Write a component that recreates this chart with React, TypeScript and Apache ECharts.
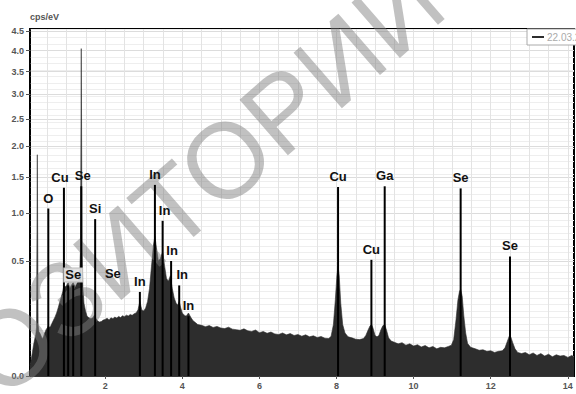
import React, { useEffect, useRef } from "react";
import * as echarts from "echarts";

// ---- data ----
const spectrumName = "22.03.2013 14:05";

const energyKeV = [
  0.05, 0.08, 0.11, 0.14, 0.17, 0.2, 0.22, 0.24, 0.26, 0.28, 0.31, 0.34, 0.37, 0.4, 0.43, 0.47, 0.5, 0.525, 0.55, 0.58,
  0.62, 0.66, 0.7, 0.74, 0.78, 0.82, 0.86, 0.9, 0.93, 0.96, 1.0, 1.04, 1.08, 1.12, 1.17, 1.22, 1.26, 1.3, 1.34, 1.36,
  1.38, 1.4, 1.42, 1.45, 1.49, 1.53, 1.58, 1.63, 1.68, 1.72, 1.76, 1.8, 1.85, 1.9, 1.95, 2.0, 2.05, 2.1, 2.15, 2.2,
  2.25, 2.3, 2.35, 2.4, 2.45, 2.5, 2.55, 2.6, 2.65, 2.7, 2.75, 2.8, 2.85, 2.9, 2.95, 3.0, 3.05, 3.1, 3.15, 3.2,
  3.25, 3.29, 3.33, 3.38, 3.43, 3.49, 3.54, 3.59, 3.64, 3.69, 3.74, 3.79, 3.84, 3.88, 3.92, 3.96, 4.0, 4.05, 4.1, 4.16,
  4.22, 4.28, 4.34, 4.4, 4.5, 4.6, 4.7, 4.8, 4.9, 5.0, 5.1, 5.2, 5.3, 5.4, 5.5, 5.6, 5.7, 5.8, 5.9, 6.0,
  6.1, 6.2, 6.3, 6.4, 6.5, 6.6, 6.7, 6.8, 6.9, 7.0, 7.1, 7.2, 7.3, 7.4, 7.5, 7.6, 7.7, 7.8, 7.86, 7.92,
  7.97, 8.01, 8.04, 8.07, 8.11, 8.16, 8.22, 8.3, 8.4, 8.5, 8.6, 8.7, 8.76, 8.82, 8.87, 8.91, 8.95, 9.0, 9.05, 9.1,
  9.15, 9.2, 9.25, 9.3, 9.35, 9.42, 9.5, 9.6, 9.7, 9.8, 9.9, 10.0, 10.1, 10.2, 10.3, 10.4, 10.5, 10.6, 10.7, 10.8,
  10.9, 10.98, 11.04, 11.1, 11.15, 11.19, 11.22, 11.26, 11.3, 11.35, 11.4, 11.48, 11.6, 11.7, 11.8, 11.9, 12.0, 12.1, 12.2, 12.3,
  12.37, 12.43, 12.48, 12.52, 12.57, 12.63, 12.7, 12.8, 12.9, 13.0, 13.1, 13.2, 13.3, 13.4, 13.5, 13.6, 13.7, 13.8, 13.9, 14.0,
  14.1, 14.16,
];

const cpsPerEV = [
  0.004, 0.01, 0.02, 0.035, 0.05, 0.065, 0.09, 1.85, 0.1, 0.075, 0.068, 0.06, 0.052, 0.058, 0.07, 0.082, 0.088, 0.095, 0.09, 0.092,
  0.105, 0.118, 0.132, 0.15, 0.175, 0.205, 0.235, 0.27, 0.31, 0.3, 0.31, 0.33, 0.29, 0.31, 0.33, 0.3, 0.32, 0.34, 0.4, 0.6,
  4.05, 0.6, 0.3, 0.2, 0.16, 0.135, 0.128, 0.124, 0.128, 0.14, 0.125, 0.115, 0.11, 0.112, 0.118, 0.121, 0.126, 0.119, 0.128, 0.124,
  0.131, 0.127, 0.134, 0.129, 0.137, 0.133, 0.14, 0.136, 0.143, 0.139, 0.146, 0.15, 0.165, 0.21, 0.165, 0.16, 0.175, 0.21, 0.29, 0.45,
  0.64, 0.74, 0.62, 0.5, 0.52, 0.58, 0.46, 0.36, 0.34, 0.38, 0.29, 0.23, 0.2, 0.19, 0.21, 0.175, 0.15, 0.14, 0.135, 0.15,
  0.13, 0.115, 0.108, 0.1, 0.097, 0.092, 0.096, 0.089, 0.093, 0.087, 0.085, 0.09, 0.083, 0.081, 0.079, 0.084, 0.077, 0.075, 0.08, 0.071,
  0.075, 0.069, 0.073, 0.067, 0.065, 0.07, 0.064, 0.068, 0.062, 0.065, 0.06, 0.064, 0.058, 0.061, 0.056, 0.059, 0.054, 0.053, 0.06, 0.1,
  0.22, 0.38, 0.46, 0.38, 0.2, 0.1, 0.07, 0.058, 0.055, 0.051, 0.05, 0.053, 0.062, 0.08, 0.095, 0.1, 0.085, 0.062, 0.058, 0.062,
  0.08, 0.095, 0.1, 0.078, 0.055, 0.046, 0.043, 0.039, 0.042, 0.036, 0.039, 0.034, 0.037, 0.032, 0.035, 0.03, 0.033, 0.028, 0.031, 0.03,
  0.033, 0.036, 0.05, 0.12, 0.22, 0.27, 0.285, 0.24, 0.14, 0.07, 0.04, 0.031, 0.028, 0.025, 0.026, 0.023, 0.024, 0.021, 0.023, 0.024,
  0.03, 0.045, 0.06, 0.058, 0.042, 0.028, 0.021, 0.019, 0.021, 0.017, 0.02, 0.016, 0.019, 0.015, 0.018, 0.014, 0.017, 0.015, 0.016, 0.013,
  0.016, 0.014,
];

// identification lines: energy (keV), height (cps/eV), element label
const markerEnergy = [0.525, 0.93, 1.04, 1.17, 1.38, 1.74, 2.9, 3.29, 3.49, 3.71, 3.92, 4.16, 8.04, 8.905, 9.25, 11.22, 12.5];
const markerHeight = [1.06, 1.34, 0.31, 0.31, 1.36, 0.93, 0.267, 1.38, 0.91, 0.5, 0.31, 0.135, 1.35, 0.51, 1.36, 1.33, 0.54];
const markerLabel = ["O", "Cu", "", "Se", "Se", "Si", "In", "In", "In", "In", "In", "In", "Cu", "Cu", "Ga", "Se", "Se"];

// free-standing element label (no visible line): energy, level under the label, text
const looseLabelEnergy = [2.2];
const looseLabelLevel = [0.32];
const looseLabelText = ["Se"];

const yTickValues = [0, 0.5, 1.0, 1.5, 2.0, 2.5, 3.0, 3.5, 4.0, 4.5];
const xTickValues = [2, 4, 6, 8, 10, 12, 14];

const X_MIN = 0.05;
const X_MAX = 14.16;
const Y_MAX = 4.55;

const FONT = '"Liberation Sans", Arial, Helvetica, sans-serif';

export default function App() {
  const ref = useRef<HTMLDivElement>(null);

  useEffect(() => {
    document.body.style.margin = "0";
    if (!ref.current) return;
    const chart = echarts.init(ref.current, undefined, { renderer: "svg" });

    const sq = (v: number) => Math.sqrt(v);
    const xGridValues: number[] = [];
    for (let k = 1; k <= 28; k++) xGridValues.push(k * 0.5);
    const ySqrtTicks = yTickValues.map(sq);

    const spectrumData = energyKeV.map((e, i) => [e, sq(cpsPerEV[i])]);

    const labelDx: Record<number, number> = { 1: -4, 4: 1.5, 8: 2, 9: 1, 10: 3 };

    const markerData: any[] = markerEnergy.map((e, i) => {
      const boxed = i === 3;
      return {
        value: [e, sq(markerHeight[i])],
        label: {
          show: markerLabel[i] !== "",
          formatter: markerLabel[i],
          offset: [labelDx[i] || 0, 0],
          ...(boxed
            ? {
                backgroundColor: "rgba(225,225,225,0.9)",
                borderColor: "#bbb",
                borderWidth: 1,
                padding: [0, 1, 0, 1],
              }
            : {}),
        },
      };
    });
    looseLabelEnergy.forEach((e, i) => {
      markerData.push({
        value: [e, sq(looseLabelLevel[i])],
        itemStyle: { color: "rgba(0,0,0,0)" },
        label: { show: true, formatter: looseLabelText[i] },
      });
    });

    chart.setOption({
      animation: false,
      textStyle: { fontFamily: FONT },
      grid: {
        left: 30,
        right: 2,
        top: 29,
        bottom: 18,
        containLabel: false,
        outerBoundsMode: "none",
        show: true,
        borderColor: "#000",
        borderWidth: 2,
        backgroundColor: "#fff",
      },
      legend: {
        left: 527,
        top: 29,
        padding: [3, 4, 3, 5],
        itemWidth: 12,
        itemHeight: 2,
        borderColor: "#aaa",
        borderWidth: 1,
        backgroundColor: "#fff",
        borderRadius: 0,
        textStyle: { fontSize: 10, color: "#aaa", padding: [0, 0, 0, -2] },
        data: [{ name: spectrumName, icon: "rect" }],
      },
      xAxis: [
        {
          type: "value",
          min: X_MIN,
          max: X_MAX,
          name: "keV",
          nameLocation: "middle",
          nameGap: 14,
          nameTextStyle: { fontSize: 9, color: "#555", fontWeight: "bold" },
          axisLine: { show: true, onZero: false, lineStyle: { color: "#000", width: 1.5 } },
          axisTick: { show: false, customValues: xGridValues },
          axisLabel: {
            customValues: xTickValues,
            fontSize: 9,
            color: "#555",
            fontWeight: "bold",
            margin: 5,
          },
          splitLine: { show: true, lineStyle: { color: "#e3e3e3", width: 1 } },
        },
        {
          type: "value",
          min: X_MIN,
          max: X_MAX,
          position: "bottom",
          axisLine: { show: false },
          axisTick: { show: true, customValues: xTickValues, length: 3, lineStyle: { color: "#555" } },
          axisLabel: { show: false },
          splitLine: { show: false },
        },
      ],
      yAxis: [
        {
          type: "value",
          min: 0,
          max: sq(Y_MAX),
          interval: 0.04,
          name: "cps/eV",
          nameLocation: "end",
          nameGap: 8,
          nameTextStyle: { fontSize: 9, color: "#555", fontWeight: "bold", align: "left", padding: [0, 0, 0, 0] },
          axisLine: { show: true, onZero: false, lineStyle: { color: "#000", width: 1.5 } },
          axisTick: { show: false },
          axisLabel: {
            customValues: ySqrtTicks,
            formatter: (v: number) => (v * v).toFixed(1),
            fontSize: 9,
            color: "#555",
            fontWeight: "bold",
            margin: 6,
          },
          splitLine: { show: true, lineStyle: { color: "#eeeeee", width: 1 } },
        },
        {
          type: "value",
          min: 0,
          max: sq(Y_MAX),
          position: "left",
          axisLine: { show: false },
          axisTick: { show: true, customValues: ySqrtTicks, length: 4, lineStyle: { color: "#555" } },
          axisLabel: { show: false },
          splitLine: { show: true, lineStyle: { color: "#dcdcdc", width: 1 } },
        },
      ],
      series: [
        {
          name: spectrumName,
          type: "line",
          xAxisIndex: 0,
          yAxisIndex: 0,
          data: spectrumData,
          symbol: "none",
          lineStyle: { color: "#2d2d2d", width: 0.6 },
          itemStyle: { color: "#2d2d2d" },
          areaStyle: { color: "#2d2d2d", opacity: 1 },
          z: 2,
        },
        {
          name: "lines",
          type: "bar",
          xAxisIndex: 0,
          yAxisIndex: 0,
          barWidth: 2,
          data: markerData,
          itemStyle: { color: "#000" },
          label: {
            show: true,
            position: "top",
            distance: 4,
            fontSize: 13,
            fontWeight: "bold",
            color: "#111",
            fontFamily: FONT,
          },
          z: 101,
        },
      ],
      graphic: [
        {
          type: "text",
          x: 120,
          y: 252,
          rotation: (41 * Math.PI) / 180,
          z: 100,
          silent: true,
          style: {
            text: "РЕПОЗИТОРИЙ",
            font: 'normal 107px "Liberation Sans", Arial, sans-serif',
            fill: "rgba(125,125,125,0.48)",
            align: "center",
            verticalAlign: "middle",
          },
        },
      ],
    });

    return () => chart.dispose();
  }, []);

  return <div ref={ref} style={{ width: 576, height: 394 }} />;
}
